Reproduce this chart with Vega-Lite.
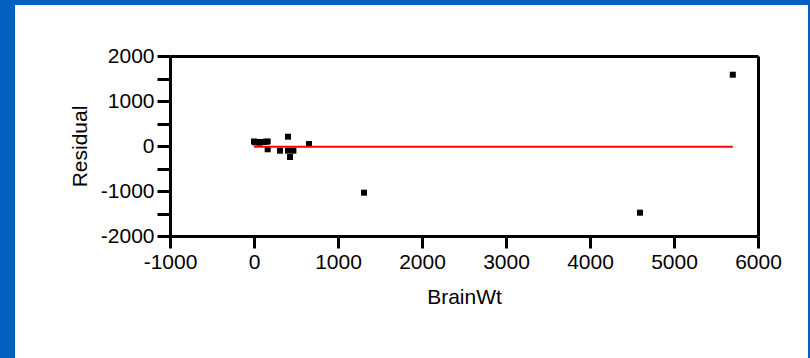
{
  "$schema": "https://vega.github.io/schema/vega-lite/v6.json",
  "autosize": "none",
  "width": 588,
  "height": 180,
  "padding": {"left": 170, "top": 56, "right": 52, "bottom": 122},
  "background": "#0461c2",
  "config": {
    "view": {"stroke": null},
    "axis": {
      "domainColor": "black", "domainWidth": 3,
      "tickColor": "black", "tickWidth": 3, "tickSize": 12,
      "labelFont": "Liberation Sans", "labelFontSize": 21, "labelColor": "black", "labelPadding": 3,
      "titleFont": "Liberation Sans", "titleFontSize": 21, "titleFontWeight": "normal", "titleColor": "black",
      "grid": false, "labelOverlap": false, "labelBound": false, "labelFlush": false
    }
  },
  "datasets": {
    "resid": [
      {"BrainWt": 0, "Residual": 100},
      {"BrainWt": 15, "Residual": 80},
      {"BrainWt": 40, "Residual": 90},
      {"BrainWt": 68, "Residual": 73},
      {"BrainWt": 103, "Residual": 89},
      {"BrainWt": 140, "Residual": 95},
      {"BrainWt": 163, "Residual": 100},
      {"BrainWt": 163, "Residual": -73},
      {"BrainWt": 310, "Residual": -104},
      {"BrainWt": 405, "Residual": 207},
      {"BrainWt": 405, "Residual": -104},
      {"BrainWt": 469, "Residual": -104},
      {"BrainWt": 429, "Residual": -244},
      {"BrainWt": 655, "Residual": 44},
      {"BrainWt": 1310, "Residual": -1037},
      {"BrainWt": 4595, "Residual": -1482},
      {"BrainWt": 5700, "Residual": 1584}
    ],
    "zero": [
      {"BrainWt": 0, "Residual": -15},
      {"BrainWt": 5700, "Residual": -15}
    ]
  },
  "layer": [
    {
      "data": {"values": [{"panel": "white"}]},
      "mark": {"type": "rect", "fill": "white", "clip": false},
      "encoding": {
        "x": {"datum": -2845, "type": "quantitative", "scale": {"domain": [-1000, 6000], "nice": false, "zero": false}, "axis": null},
        "x2": {"datum": 6595},
        "y": {"datum": 3133, "type": "quantitative", "scale": {"domain": [-2000, 2000], "nice": false, "zero": false}, "axis": null},
        "y2": {"datum": -4800}
      }
    },
    {
      "data": {"name": "resid"},
      "mark": {"type": "square", "size": 36, "color": "black", "opacity": 1, "filled": true},
      "encoding": {
        "x": {
          "field": "BrainWt", "type": "quantitative",
          "scale": {"domain": [-1000, 6000], "nice": false, "zero": false},
          "axis": {"orient": "bottom", "zindex": 2, "values": [-1000, 0, 1000, 2000, 3000, 4000, 5000, 6000], "labelExpr": "'' + datum.value", "title": "BrainWt", "titlePadding": 14}
        },
        "y": {
          "field": "Residual", "type": "quantitative",
          "scale": {"domain": [-2000, 2000], "nice": false, "zero": false},
          "axis": {"orient": "left", "zindex": 2, "values": [-2000, -1500, -1000, -500, 0, 500, 1000, 1500, 2000], "labelExpr": "datum.value % 1000 === 0 ? '' + datum.value : ''", "tickSize": 13, "title": "Residual", "titlePadding": 10}
        }
      }
    },
    {
      "data": {"name": "zero"},
      "mark": {"type": "line", "color": "#ff0000", "strokeWidth": 2},
      "encoding": {
        "x": {
          "field": "BrainWt", "type": "quantitative",
          "scale": {"domain": [-1000, 6000], "nice": false, "zero": false},
          "axis": {"orient": "top", "zindex": 2, "labels": false, "ticks": false, "title": null}
        },
        "y": {
          "field": "Residual", "type": "quantitative",
          "scale": {"domain": [-2000, 2000], "nice": false, "zero": false},
          "axis": {"orient": "right", "zindex": 2, "labels": false, "ticks": false, "title": null}
        }
      }
    }
  ],
  "resolve": {"axis": {"x": "independent", "y": "independent"}}
}
